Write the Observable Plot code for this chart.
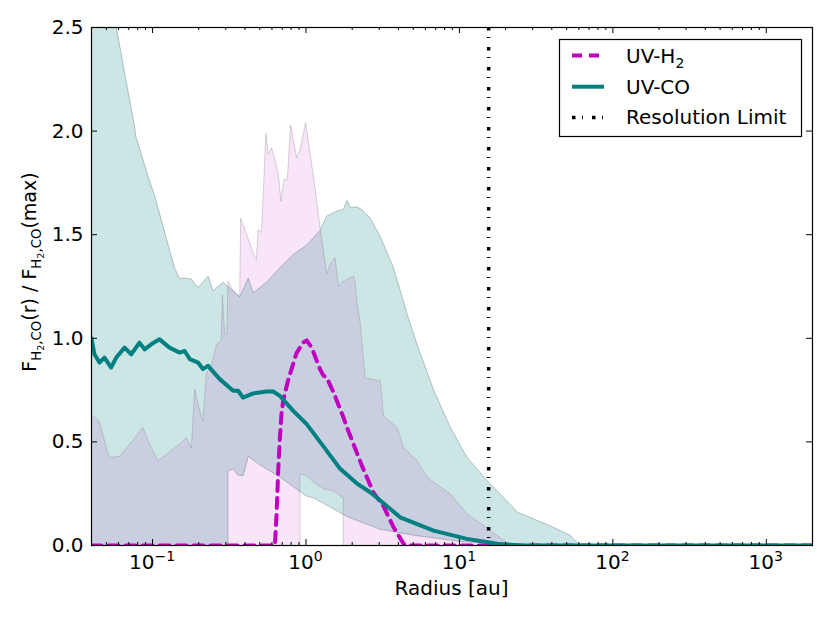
<!DOCTYPE html>
<html><head><meta charset="utf-8">
<script src="https://cdn.jsdelivr.net/npm/d3@7"></script>
<script src="https://cdn.jsdelivr.net/npm/@observablehq/plot@0.6"></script>
<style>body{margin:0;background:#fff;font-family:"DejaVu Sans",sans-serif}</style>
</head><body><div id="chart"></div>
<script>
// ---- data (radius in au, normalised flux) ----
const coUpper = [[0.04,3.15],[0.058,2.5],[0.076,2.03],[0.078,1.97],[0.0955,1.76],[0.103,1.69],[0.139,1.34],[0.150,1.29],[0.165,1.29],[0.179,1.285],[0.198,1.245],[0.230,1.30],[0.248,1.23],[0.288,1.27],[0.37,1.20],[0.42,1.29],[0.453,1.22],[0.553,1.27],[0.676,1.34],[0.826,1.405],[1.01,1.45],[1.235,1.52],[1.365,1.59],[1.587,1.614],[1.75,1.622],[1.85,1.665],[1.96,1.63],[2.14,1.635],[2.31,1.62],[2.62,1.58],[3.05,1.49],[3.72,1.34],[4.55,1.12],[5.29,0.97],[6.79,0.75],[8.73,0.57],[11.2,0.425],[15.5,0.305],[24,0.16],[39,0.095],[53,0.048],[58.8,0.01],[62,0.002],[70,0],[2000,0]];
const coLower = [[0.04,0],[0.31,0],[0.31,0.36],[0.335,0.37],[0.36,0.34],[0.389,0.337],[0.42,0.43],[0.5,0.39],[0.676,0.33],[1.0,0.24],[1.12,0.23],[1.85,0.14],[3.05,0.078],[5,0.05],[10,0.02],[20,0.005],[30,0],[2000,0]];
const h2Upper = [[0.04,0.63],[0.045,0.60],[0.052,0.425],[0.061,0.43],[0.071,0.49],[0.0865,0.57],[0.0955,0.49],[0.108,0.41],[0.123,0.44],[0.150,0.49],[0.166,0.52],[0.179,0.47],[0.188,0.755],[0.203,0.65],[0.213,0.60],[0.224,0.83],[0.242,0.875],[0.261,0.97],[0.28,0.99],[0.285,1.21],[0.295,1.02],[0.305,1.02],[0.31,1.276],[0.335,1.23],[0.37,1.20],[0.375,1.58],[0.464,1.39],[0.475,1.38],[0.488,1.525],[0.513,1.51],[0.548,1.99],[0.567,1.887],[0.597,1.92],[0.659,1.80],[0.687,1.66],[0.718,1.766],[0.755,1.766],[0.794,2.03],[0.869,1.87],[0.913,1.91],[0.995,2.04],[1.145,1.726],[1.235,1.533],[1.365,1.31],[1.435,1.357],[1.547,1.39],[1.627,1.25],[1.71,1.27],[1.85,1.285],[2.04,1.30],[2.09,1.276],[2.14,1.18],[2.25,1.084],[2.43,0.81],[3.05,0.795],[3.2,0.626],[3.92,0.57],[4.33,0.473],[5.29,0.41],[6.15,0.329],[8.73,0.249],[11.2,0.153],[14.4,0.096],[19.5,0.024],[22,0],[2000,0]];
const h2Lower = [[0.04,0],[0.913,0],[0.913,0.345],[1.01,0.337],[1.12,0.305],[1.30,0.273],[1.51,0.265],[1.71,0.233],[1.75,0.233],[1.75,0],[2000,0]];
const h2Mean = [[0.04,0],[0.627,0],[0.643,0.15],[0.659,0.36],[0.676,0.52],[0.693,0.64],[0.711,0.70],[0.766,0.80],[0.869,0.93],[0.96,0.98],[1.01,0.99],[1.09,0.955],[1.235,0.85],[1.3,0.82],[1.365,0.81],[1.51,0.74],[1.75,0.62],[1.85,0.57],[2.3,0.39],[2.75,0.255],[3.2,0.19],[3.72,0.088],[4.33,0.008],[4.5,0],[2000,0]];
const coMean = [[0.040,1.0],[0.0418,0.923],[0.0451,0.883],[0.0486,0.907],[0.0537,0.859],[0.058,0.907],[0.0657,0.955],[0.0726,0.923],[0.0822,0.979],[0.0887,0.947],[0.098,0.971],[0.111,0.995],[0.129,0.955],[0.150,0.931],[0.162,0.939],[0.175,0.899],[0.198,0.883],[0.213,0.851],[0.230,0.867],[0.274,0.803],[0.335,0.747],[0.361,0.747],[0.389,0.714],[0.453,0.734],[0.553,0.743],[0.611,0.743],[0.676,0.722],[0.826,0.65],[1.01,0.586],[1.235,0.50],[1.67,0.37],[2.14,0.30],[2.62,0.257],[3.05,0.217],[4.11,0.136],[6.79,0.072],[11.2,0.032],[17.6,0.008],[25,0],[2000,0]];
const resolutionLimit = [15.5];
const xMajorTicks = [0.1, 1, 10, 100, 1000];
const xTickLabels = ["-1", "0", "1", "2", "3"];
const yTicks = [0, 0.5, 1.0, 1.5, 2.0, 2.5];
const legendLabels = ["UV-H", "UV-CO", "Resolution Limit"];

const TEAL = "#008080", MAG = "#bf00bf";
const W = 830, H = 623, mL = 91, mR = 18, mT = 27, mB = 78;
const fw = W - mL - mR, fh = H - mT - mB;

const pts = a => a.map(([x, y]) => ({x, y}));
const band = (up, lo) => pts(up).concat(pts(lo).reverse());
const minorTicks = d3.scaleLog().domain([0.04, 2000]).ticks().filter(t => !xMajorTicks.includes(t));

const chart = Plot.plot({
  width: W, height: H,
  marginLeft: mL, marginRight: mR, marginTop: mT, marginBottom: mB,
  style: {fontFamily: "DejaVu Sans", fontSize: "20px", background: "white", overflow: "visible"},
  x: {type: "log", domain: [0.04, 2000], axis: null},
  y: {domain: [0, 2.5], axis: null},
  marks: [
    Plot.line(band(coUpper, coLower), {x: "x", y: "y", fill: TEAL, fillOpacity: 0.2, stroke: "#6f7f7f", strokeOpacity: 0.45, strokeWidth: 1, clip: true}),
    Plot.line(band(h2Upper, h2Lower), {x: "x", y: "y", fill: MAG, fillOpacity: 0.1, stroke: "#7f6f7f", strokeOpacity: 0.3, strokeWidth: 1, clip: true}),
    Plot.line(pts(h2Mean), {x: "x", y: "y", stroke: MAG, strokeWidth: 4, strokeDasharray: "10,7", clip: true}),
    Plot.line(pts(coMean), {x: "x", y: "y", stroke: TEAL, strokeWidth: 4, clip: true}),
    Plot.ruleX(resolutionLimit, {stroke: "black", strokeWidth: 3.5, strokeDasharray: "3.5,6.5,1,9"}),
    // ticks (inward, all four sides)
    Plot.tickX(xMajorTicks, {x: d => d, insetTop: fh - 6, stroke: "black"}),
    Plot.tickX(xMajorTicks, {x: d => d, insetBottom: fh - 6, stroke: "black"}),
    Plot.tickX(minorTicks, {x: d => d, insetTop: fh - 3, stroke: "black"}),
    Plot.tickX(minorTicks, {x: d => d, insetBottom: fh - 3, stroke: "black"}),
    Plot.tickY(yTicks, {y: d => d, insetRight: fw - 6, stroke: "black"}),
    Plot.tickY(yTicks, {y: d => d, insetLeft: fw - 6, stroke: "black"}),
    Plot.text(yTicks, {y: d => d, frameAnchor: "left", dx: -8, textAnchor: "end", text: d => d.toFixed(1), fontSize: 20, fill: "black"}),
    Plot.frame({stroke: "black", strokeWidth: 1.2})
  ]
});

const svg = d3.select(chart);
const xs = chart.scale("x");
const xPix = v => xs.apply ? xs.apply(v) : d3.scaleLog().domain(xs.domain).range(xs.range)(v);

// x tick labels with superscripts
const gx = svg.append("g").attr("font-family", "DejaVu Sans").attr("fill", "black");
xMajorTicks.forEach((t, i) => {
  const tx = gx.append("text").attr("x", xPix(t)).attr("y", 569).attr("text-anchor", "middle").attr("font-size", 20);
  tx.append("tspan").text("10");
  tx.append("tspan").attr("dy", -8).attr("font-size", 14).text(xTickLabels[i].replace("-", "\u2212"));
});
// x label
svg.append("text").attr("x", mL + fw / 2).attr("y", 595).attr("text-anchor", "middle")
  .attr("font-family", "DejaVu Sans").attr("font-size", 20).attr("fill", "black").text("Radius [au]");
// y label
const yl = svg.append("text").attr("transform", "translate(36,272) rotate(-90)").attr("text-anchor", "middle")
  .attr("font-family", "DejaVu Sans").attr("font-size", 19).attr("fill", "black");
function sub(t) {
  t.append("tspan").attr("dy", 5).attr("font-size", 13.3).text("H");
  t.append("tspan").attr("dy", 3).attr("font-size", 9.5).text("2");
  t.append("tspan").attr("dy", -3).attr("font-size", 13.3).text(",CO");
}
yl.append("tspan").text("F"); sub(yl);
yl.append("tspan").attr("dy", -5).attr("font-size", 19).text("(r) / F"); sub(yl);
yl.append("tspan").attr("dy", -5).attr("font-size", 19).text("(max)");

// legend
const lg = svg.append("g").attr("font-family", "DejaVu Sans").attr("font-size", 20).attr("fill", "black").attr("text-anchor", "start");
lg.append("rect").attr("x", 559.5).attr("y", 39.5).attr("width", 242).attr("height", 97).attr("fill", "white").attr("stroke", "black").attr("stroke-width", 1.2);
const rows = [
  {y: 55.5, base: 63.3, stroke: MAG, dash: "10,7"},
  {y: 86.7, base: 94, stroke: TEAL, dash: null},
  {y: 117.5, base: 124, stroke: "black", dash: "3.5,6.5,1,9"}
];
rows.forEach((r, i) => {
  const ln = lg.append("line").attr("x1", 572).attr("x2", 604).attr("y1", r.y).attr("y2", r.y)
    .attr("stroke", r.stroke).attr("stroke-width", i === 2 ? 3.5 : 4);
  if (r.dash) ln.attr("stroke-dasharray", r.dash);
  const t = lg.append("text").attr("x", 626).attr("y", r.base).attr("text-anchor", "start");
  t.append("tspan").text(legendLabels[i]);
  if (i === 0) t.append("tspan").attr("dy", 5).attr("font-size", 14).text("2");
});

document.getElementById("chart").appendChild(chart);
</script>
</body></html>
